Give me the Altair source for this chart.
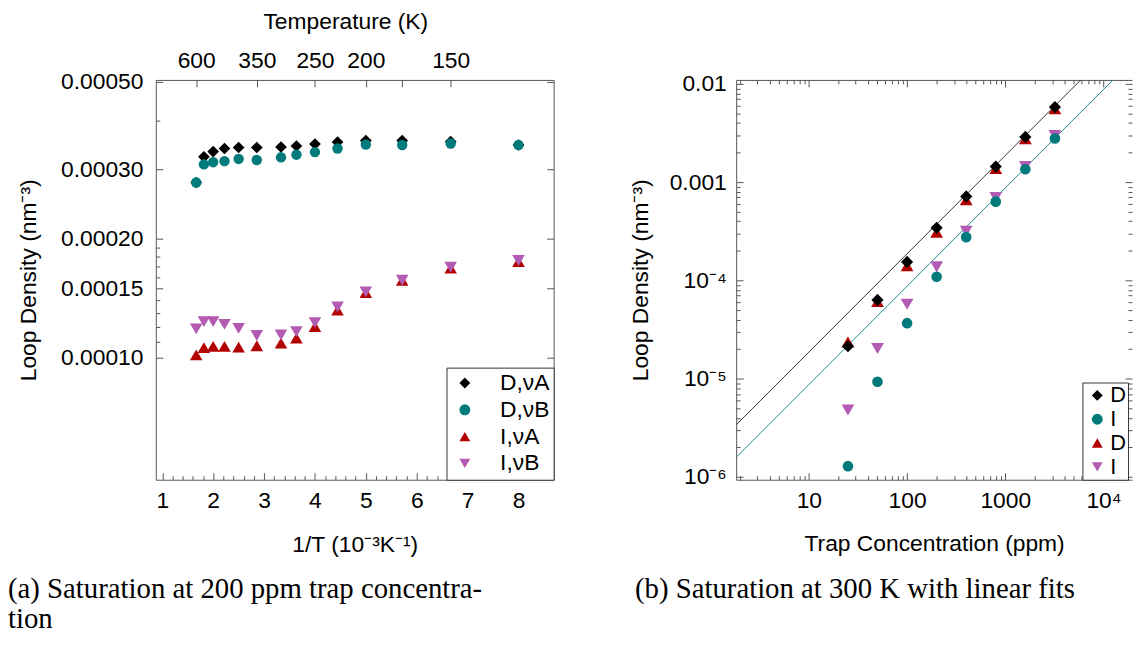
import altair as alt
import pandas as pd

# ---------------- panel (a): saturation at 200 ppm vs 1/T ----------------
inv_T = [1.667, 1.818, 2.0, 2.222, 2.5, 2.857, 3.333, 3.636, 4.0, 4.444, 5.0, 5.714, 6.667, 8.0]
a_D_vA = [2.78e-4, 3.23e-4, 3.33e-4, 3.39e-4, 3.41e-4, 3.41e-4, 3.42e-4, 3.44e-4, 3.48e-4, 3.52e-4, 3.55e-4, 3.55e-4, 3.53e-4, 3.46e-4]
a_D_vB = [2.78e-4, 3.09e-4, 3.13e-4, 3.15e-4, 3.19e-4, 3.17e-4, 3.22e-4, 3.27e-4, 3.32e-4, 3.39e-4, 3.47e-4, 3.46e-4, 3.49e-4, 3.46e-4]
a_I_vA = [1.017e-4, 1.061e-4, 1.068e-4, 1.068e-4, 1.064e-4, 1.072e-4, 1.089e-4, 1.121e-4, 1.199e-4, 1.32e-4, 1.463e-4, 1.571e-4, 1.687e-4, 1.753e-4]
a_I_vB = [1.183e-4, 1.234e-4, 1.234e-4, 1.215e-4, 1.187e-4, 1.138e-4, 1.142e-4, 1.164e-4, 1.227e-4, 1.344e-4, 1.468e-4, 1.571e-4, 1.696e-4, 1.763e-4]
a_names = ["D,νA", "D,νB", "I,νA", "I,νB"]
top_temps = [600, 350, 250, 200, 175, 150]

# ---------------- panel (b): saturation at 300 K vs trap concentration ----------------
conc = [25, 50, 100, 200, 400, 800, 1600, 3200]
b_D_vA = [2.14e-5, 6.34e-5, 1.545e-4, 3.43e-4, 7.17e-4, 1.44e-3, 2.89e-3, 5.81e-3]
b_I_vA = [1.29e-6, 9.33e-6, 3.68e-5, 1.09e-4, 2.76e-4, 6.34e-4, 1.353e-3, 2.78e-3]
b_D_vB = [2.37e-5, 6.1e-5, 1.41e-4, 3.10e-4, 6.64e-4, 1.375e-3, 2.76e-3, 5.59e-3]
b_I_vB = [4.8e-6, 2.03e-5, 5.73e-5, 1.375e-4, 3.16e-4, 7.0e-4, 1.44e-3, 2.98e-3]
b_names = ["D,νA", "I,νA", "D,νB", "I,νB"]
fit_x = [1.82, 19500]
fit_D = [3.40e-6, 3.65e-2]
fit_I = [1.59e-6, 1.71e-2]

# ---------------- tables ----------------
rows = []
for name, vals in zip(a_names, [a_D_vA, a_D_vB, a_I_vA, a_I_vB]):
    rows += [{"x": x, "y": y, "series": name} for x, y in zip(inv_T, vals)]
df_a = pd.DataFrame(rows)

rows = []
for name, vals in zip(b_names, [b_D_vA, b_I_vA, b_D_vB, b_I_vB]):
    rows += [{"x": x, "y": y, "series": name} for x, y in zip(conc, vals)]
df_b = pd.DataFrame(rows)

df_fit = pd.DataFrame({"x": fit_x * 2, "y": fit_D + fit_I,
                       "fit": ["D"] * 2 + ["I"] * 2})

# ---------------- styling ----------------
FONT = "Liberation Sans"
SERIF = "Liberation Serif"
FS = 23
W, H = 401, 403
WB = 399
AXC = "#555555"
BLACK, TEAL, RED, VIOLET = "#000000", "#007a7a", "#b30000", "#b35ab3"


def ax(**kw):
    d = dict(grid=False, domain=False, ticks=False, labels=False, title=None,
             tickColor=AXC, domainColor=AXC, tickWidth=1, domainWidth=1)
    d.update(kw)
    return alt.Axis(**d)


def tick_ax(orient, offset, values, size, domain=False):
    return ax(orient=orient, offset=offset, values=values, ticks=True,
              tickSize=size, domain=domain)


# ---------------- panel (a) ----------------
xs_a = alt.Scale(domain=[0.873, 8.69], nice=False, zero=False)
ys_a = alt.Scale(type="log", domain=[4.906e-5, 5.058e-4], nice=False)
col_a = alt.Scale(domain=a_names, range=[BLACK, TEAL, RED, VIOLET])
shp_a = alt.Scale(domain=a_names, range=["diamond", "circle", "triangle-up", "triangle-down"])
leg_a = alt.Legend(title=None, orient="bottom-right", offset=0, strokeColor="#333333",
                   fillColor="white", padding=4, rowPadding=3, symbolOffset=3,
                   labelOffset=24, symbolSize=120, labelFontSize=FS, labelFont=FONT)

a_x_major = list(range(1, 9))
a_x_minor = [round(1 + 0.2 * i, 1) for i in range(39) if i % 5 != 0]
a_y_major = [1e-4, 1.5e-4, 2e-4, 3e-4, 5e-4]
a_y_minor = [k * 1e-5 for k in range(11, 20) if k != 15] + [4e-4]
a_top = [1000.0 / t for t in top_temps]

size_a = {"D,νA": 140, "D,νB": 110, "I,νA": 160, "I,νB": 160}


def pts_a(name, xaxis, yaxis, opacity=1.0):
    return alt.Chart(df_a).transform_filter(alt.datum.series == name).mark_point(
        filled=True, size=size_a[name], opacity=opacity).encode(
        x=alt.X("x:Q", scale=xs_a, axis=xaxis),
        y=alt.Y("y:Q", scale=ys_a, axis=yaxis),
        color=alt.Color("series:N", scale=col_a, legend=leg_a),
        shape=alt.Shape("series:N", scale=shp_a, legend=leg_a),
    )


a1 = pts_a("D,νA",
           ax(orient="bottom", values=a_x_major, labels=True, format="d", tickSize=0,
              labelPadding=10, domain=True, labelFlush=False, labelOverlap=False,
              title="1/T (10⁻³K⁻¹)", titlePadding=21),
           ax(orient="left", values=a_y_major, labels=True, format=".5f", tickSize=0,
              labelPadding=13, domain=True, labelOverlap=False,
              title="Loop Density (nm⁻³)", titlePadding=20))
a2 = pts_a("D,νB", tick_ax("top", -H, a_x_major, 7), tick_ax("right", -W, a_y_major, 7))
a3 = pts_a("I,νA", tick_ax("top", -H, a_x_minor, 4), tick_ax("right", -W, a_y_minor, 4))
a4 = pts_a("I,νB",
           ax(orient="top", values=a_top, labels=True, tickSize=0, labelPadding=8,
              labelFlush=False, labelOverlap=False,
              labelExpr="datum.value > 5.5 && datum.value < 6 ? '' : format(round(1000 / datum.value), 'd')",
              title="Temperature (K)", titlePadding=16, titleX=191, titleAlign="center"),
           tick_ax("left", -W, a_y_major, 7, domain=True))
a5 = pts_a("D,νA", tick_ax("bottom", -H, a_top, 7, domain=True), None, opacity=0)

left = alt.layer(a1, a2, a3, a4, a5).resolve_axis(x="independent", y="independent").properties(
    width=W, height=H,
    title=alt.TitleParams(text=["(a) Saturation at 200 ppm trap concentra-", "tion"],
                          orient="bottom", anchor="start", frame="group", dx=-149,
                          offset=19, font=SERIF, fontSize=29, fontWeight="normal",
                          lineHeight=30, color="black"))

# ---------------- panel (b) ----------------
xs_b = alt.Scale(type="log", domain=[1.82, 19500], nice=False)
ys_b = alt.Scale(type="log", domain=[9.39e-7, 0.01097], nice=False)
col_b = alt.Scale(domain=b_names, range=[BLACK, TEAL, RED, VIOLET])
shp_b = alt.Scale(domain=b_names, range=["diamond", "circle", "triangle-up", "triangle-down"])
# the reference crops this legend at the figure edge: only the first letter shows
leg_b = alt.Legend(title=None, orient="none", legendX=349, legendY=305,
                   strokeColor="#333333", fillColor="white", padding=2, rowPadding=2,
                   symbolOffset=2, labelOffset=2, symbolSize=120, labelFontSize=22,
                   labelFont=FONT,
                   labelExpr="slice(datum.label, 0, 1)")

b_x_major = [10, 100, 1000, 10000]
b_x_minor = [m * 10 ** e for e in range(0, 5) for m in range(2, 10) if 1.82 <= m * 10 ** e <= 19500]
b_y_major = [1e-6, 1e-5, 1e-4, 1e-3, 1e-2]
b_y_minor = [m * 10.0 ** e for e in range(-6, -2) for m in range(2, 10)]

size_b = {"D,νA": 150, "I,νA": 115, "D,νB": 165, "I,νB": 165}


def pts_b(name, xaxis, yaxis):
    return alt.Chart(df_b).transform_filter(alt.datum.series == name).mark_point(
        filled=True, size=size_b[name], opacity=1).encode(
        x=alt.X("x:Q", scale=xs_b, axis=xaxis),
        y=alt.Y("y:Q", scale=ys_b, axis=yaxis),
        color=alt.Color("series:N", scale=col_b, legend=leg_b),
        shape=alt.Shape("series:N", scale=shp_b, legend=leg_b),
    )


def fit_line(which, color, xaxis, yaxis):
    return alt.Chart(df_fit).transform_filter(alt.datum.fit == which).mark_line(
        clip=True, strokeWidth=1, color=color).encode(
        x=alt.X("x:Q", scale=xs_b, axis=xaxis),
        y=alt.Y("y:Q", scale=ys_b, axis=yaxis),
    )


b1 = fit_line("D", "#333333",
              ax(orient="bottom", values=b_x_major, labels=True, tickSize=0, labelPadding=10,
                 domain=True, labelFlush=False, labelOverlap=False,
                 labelExpr="datum.value > 5000 ? '10⁴' : format(datum.value, 'd')",
                 title="Trap Concentration (ppm)", titlePadding=20),
              ax(orient="left", values=b_y_major, labels=True, tickSize=0, labelPadding=10,
                 domain=True, labelOverlap=False,
                 labelExpr="datum.value > 0.005 ? '0.01' : datum.value > 0.0005 ? '0.001' : datum.value > 0.00005 ? '10⁻⁴' : datum.value > 0.000005 ? '10⁻⁵' : '10⁻⁶'",
                 title="Loop Density (nm⁻³)", titlePadding=17))
b2 = fit_line("I", "#1a9090", tick_ax("top", -H, b_x_major, 7), tick_ax("right", -WB, b_y_major, 7))
b3 = pts_b("I,νB", tick_ax("top", -H, b_x_minor, 4), tick_ax("right", -WB, b_y_minor, 4))
b4 = pts_b("D,νB", tick_ax("bottom", -H, b_x_major, 7, domain=True), tick_ax("left", -WB, b_y_major, 7))
b5 = pts_b("I,νA", tick_ax("bottom", -H, b_x_minor, 4), tick_ax("left", -WB, b_y_minor, 4))
b6 = pts_b("D,νA", None, None)

right = alt.layer(b1, b2, b3, b4, b5, b6).resolve_axis(x="independent", y="independent").properties(
    width=WB, height=H,
    title=alt.TitleParams(text="(b) Saturation at 300 K with linear fits",
                          orient="bottom", anchor="start", frame="group", dx=-102,
                          offset=20, font=SERIF, fontSize=29, fontWeight="normal",
                          lineHeight=30, color="black"))

chart = alt.hconcat(left, right, spacing=184, bounds="flush",
                    padding={"left": 0, "top": 0, "right": 0, "bottom": 0}).resolve_scale(
    color="independent", shape="independent").configure_view(stroke=None).configure_axis(
    labelFont=FONT, labelFontSize=FS, labelColor="black", titleFont=FONT,
    titleFontSize=FS, titleFontWeight="normal", titleColor="black", grid=False
).configure_legend(labelFont=FONT, labelColor="black")

chart.save("out.html", embed_options={"renderer": "svg", "actions": False})
